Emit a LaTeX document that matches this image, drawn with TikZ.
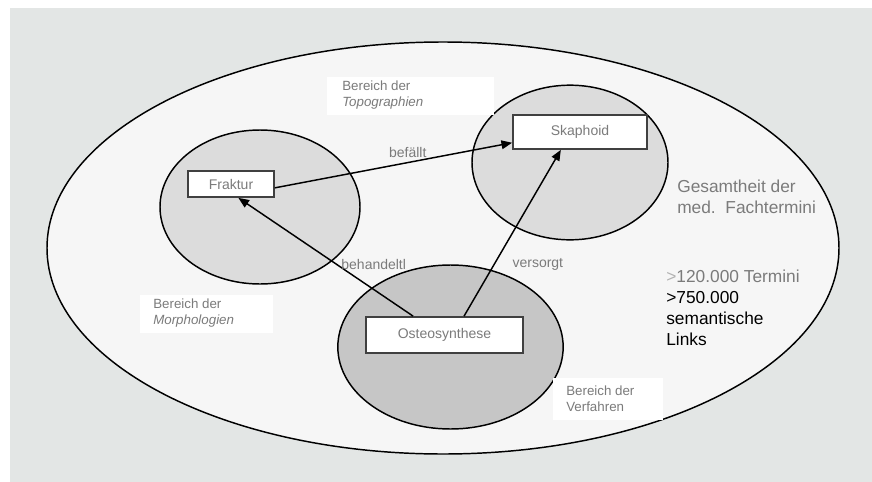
\documentclass[tikz,border=0pt]{standalone}
\usepackage{fontspec}
\setmainfont{Liberation Sans}
\usetikzlibrary{arrows.meta,shapes.geometric}
\definecolor{bggray}{HTML}{E3E6E5}
\definecolor{fieldgray}{HTML}{F6F6F6}
\definecolor{lightarea}{HTML}{DCDCDC}
\definecolor{darkarea}{HTML}{C6C6C6}
\definecolor{textgray}{HTML}{7B7B7B}

\begin{document}
\begin{tikzpicture}[x=0.75pt,y=-0.75pt,>={Triangle[length=8pt,width=6.5pt]},
    area/.style={ellipse,draw,line width=1.1pt,inner sep=0pt},
    term/.style={draw=black!75,fill=white,line width=1.3pt,text=textgray,font=\fontsize{10.5}{12}\selectfont},
    rel/.style={text=textgray,font=\fontsize{10.5}{12}\selectfont},
    region/.style={text=textgray,font=\fontsize{10}{12}\selectfont,align=left,anchor=base west,inner sep=0pt}]

  \useasboundingbox (0,0) rectangle (872,482);
  \fill[bggray] (10,8) rectangle (872,482);

  % Felder
  \node[area,fill=fieldgray,minimum width=594pt,minimum height=309pt] (all) at (443,248) {};
  \node[area,fill=lightarea,minimum width=150pt,minimum height=115.5pt] (morph) at (260,207) {};
  \node[area,fill=lightarea,minimum width=147pt,minimum height=116pt] (topo) at (570,162.5) {};
  \node[area,fill=darkarea,minimum width=169pt,minimum height=123pt] (verf) at (450.5,347) {};

  % Bereiche (base = letzte Zeile)
  \fill[white] (327,77) rectangle (494,115);
  \fill[white] (140,295) rectangle (273,333);
  \fill[white] (553,378) rectangle (663,420);
  \node[region] (topo_lbl) at (342,106) {Bereich der\\\textit{Topographien}};
  \node[region] (morph_lbl) at (153,324) {Bereich der\\\textit{Morphologien}};
  \node[region] (verf_lbl) at (566,411) {Bereich der\\Verfahren};

  \node[region,font=\fontsize{13}{15.5}\selectfont] (all_lbl) at (677,213) {Gesamtheit der\\med.\ \ Fachtermini};
  \node[region,text=black,font=\fontsize{13}{15.75}\selectfont] (count) at (666,345)
    {\textcolor{black!30}{>}\textcolor{textgray}{120.000 Termini}\\>750.000\\semantische\\Links};

  % Termini
  \node[term,minimum width=64.5pt,minimum height=19.5pt] (fraktur) at (231,184) {Fraktur};
  \node[term,minimum width=100.5pt,minimum height=25.5pt] (skaphoid) at (580,132) {Skaphoid};
  \node[term,minimum width=118pt,minimum height=27pt] (osteo) at (444.5,335) {Osteosynthese};

  \path[->,line width=1.1pt]
    (fraktur.355) edge node[rel,pos=0.56,above] {befällt} (skaphoid.189)
    (osteo.149.5) edge node[rel,pos=0.44,right] {behandeltl} (fraktur.298)
    (osteo.44)    edge node[rel,pos=0.31,right=10pt] {versorgt} (skaphoid.223);
\end{tikzpicture}
\end{document}
